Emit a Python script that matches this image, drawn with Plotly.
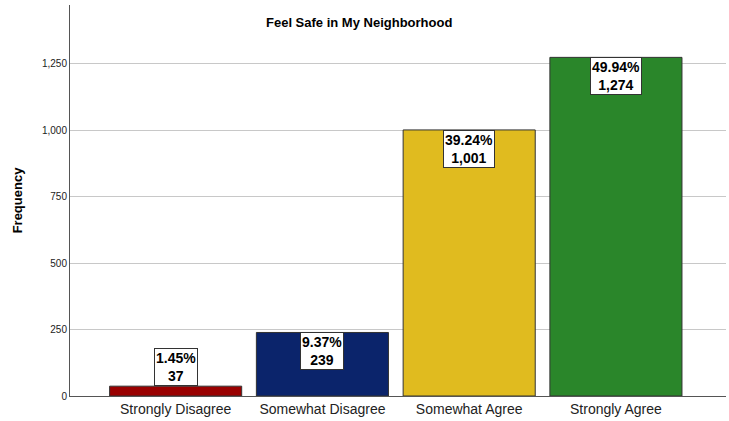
import plotly.graph_objects as go

categories = ["Strongly Disagree", "Somewhat Disagree", "Somewhat Agree", "Strongly Agree"]
counts = [37, 239, 1001, 1274]
percents = ["1.45%", "9.37%", "39.24%", "49.94%"]
colors = ["#990000", "#0b246b", "#e0bb1f", "#2a862a"]
y_ticks = [0, 250, 500, 750, 1000, 1250]
y_tick_labels = ["0", "250", "500", "750", "1,000", "1,250"]

FONT = "Liberation Sans, Arial, sans-serif"

fig = go.Figure()
fig.add_trace(go.Bar(
    x=list(range(len(categories))), y=counts,
    marker=dict(color=colors, line=dict(color="#333333", width=1)),
    width=0.9, hoverinfo="skip",
))

for i, (c, p) in enumerate(zip(counts, percents)):
    inside = c > 150
    fig.add_annotation(
        x=i, y=c, xref="x", yref="y",
        text=f"<b>{p}<br>{c:,}</b>",
        showarrow=False,
        yanchor="top" if inside else "bottom",
        font=dict(family=FONT, size=14, color="black"),
        bgcolor="white", bordercolor="#333333", borderwidth=1, borderpad=1,
    )

fig.add_annotation(
    text="<b>Feel Safe in My Neighborhood</b>", x=0.44, y=0.955,
    xref="paper", yref="paper", yanchor="middle",
    showarrow=False, font=dict(family=FONT, size=13, color="black"),
)

fig.update_layout(
    width=729, height=421,
    margin=dict(l=70, r=3, t=5, b=25),
    paper_bgcolor="white", plot_bgcolor="white",
    showlegend=False,
    font=dict(family=FONT, color="black"),
    bargap=0.1,
)
fig.update_xaxes(
    range=[-0.72, 3.75],
    tickmode="array", tickvals=list(range(len(categories))), ticktext=categories,
    tickfont=dict(size=14, color="#222222"),
    showline=True, linecolor="#555555", linewidth=1,
    ticks="", showgrid=False, zeroline=False,
)
fig.update_yaxes(
    range=[0, 1471],
    tickmode="array", tickvals=y_ticks, ticktext=y_tick_labels,
    tickfont=dict(size=10, color="#222222"),
    showline=True, linecolor="#555555", linewidth=1,
    showgrid=True, gridcolor="#c8c8c8", gridwidth=1,
    zeroline=False, ticks="",
    title=dict(text="<b>Frequency</b>", font=dict(size=13, color="black"), standoff=16),
)

fig.write_html(
    "out.html",
    config={"displayModeBar": False},
    post_script="document.body.style.margin='0';document.body.style.overflow='hidden';",
)
